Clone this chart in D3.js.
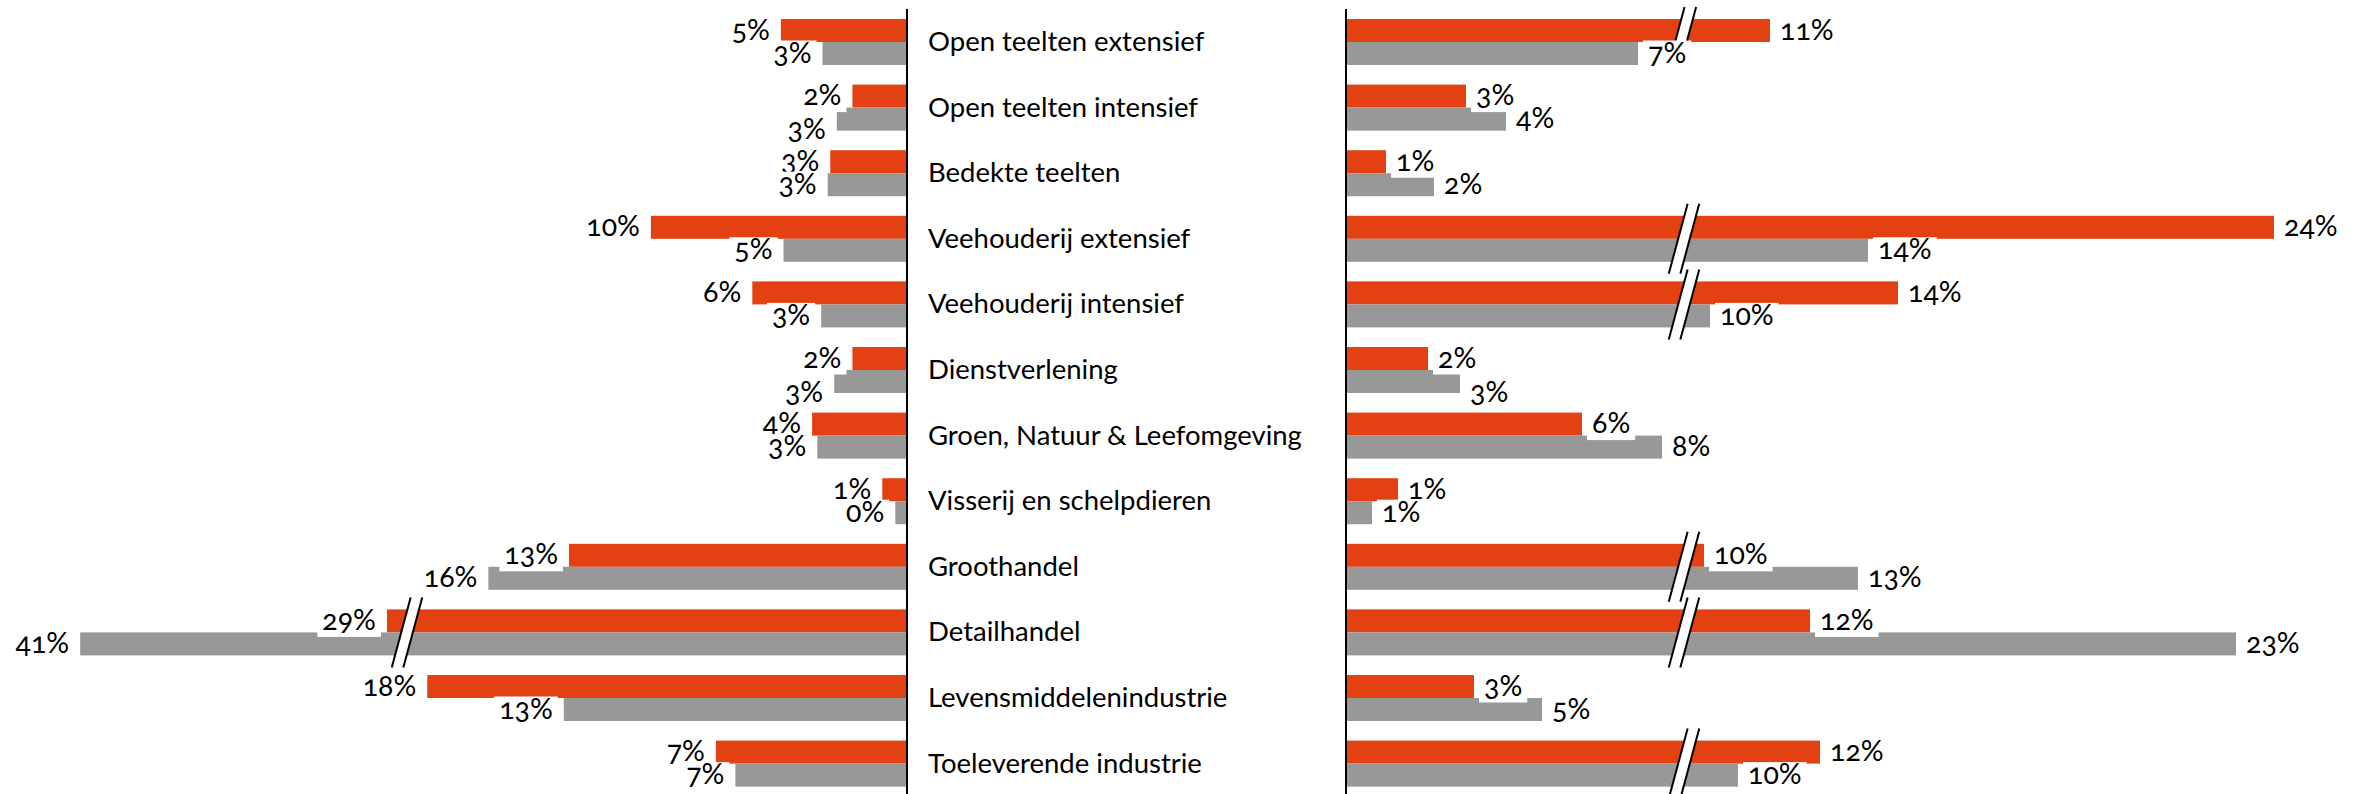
<!DOCTYPE html>
<html>
<head>
<meta charset="utf-8">
<script src="https://cdn.jsdelivr.net/npm/d3@7"></script>
<style>
    body { margin: 0; background: #ffffff; }
    svg { display: block; font-family: Lato, 'Open Sans', sans-serif; }
    .cat-label { font-size: 27.5px; fill: #000000; }
    .val-label { font-size: 28.5px; fill: #000000; font-variant-numeric: oldstyle-nums; }
    .axis-line { stroke: #000000; stroke-width: 2; }
    .break-line { stroke: #000000; stroke-width: 2; }
</style>
</head>
<body>
<svg id="chart"></svg>
<script>

// data

const categories = [
    'Open teelten extensief',
    'Open teelten intensief',
    'Bedekte teelten',
    'Veehouderij extensief',
    'Veehouderij intensief',
    'Dienstverlening',
    'Groen, Natuur & Leefomgeving',
    'Visserij en schelpdieren',
    'Groothandel',
    'Detailhandel',
    'Levensmiddelenindustrie',
    'Toeleverende industrie'
];

const seriesKeys = ['oranje', 'grijs'];

// left panel (%)
const leftOranje = [4.85, 2.1, 2.95, 9.85, 5.95, 2.1, 3.65, 0.95, 13.0, 29.1, 18.45, 7.35];
const leftGrijs = [3.25, 2.7, 3.05, 4.75, 3.3, 2.8, 3.45, 0.45, 16.1, 40.9, 13.2, 6.6];

// right panel (%)
const rightOranje = [11.2, 3.0, 1.0, 23.8, 14.4, 2.05, 5.9, 1.3, 9.55, 12.2, 3.2, 12.45];
const rightGrijs = [7.3, 4.0, 2.2, 13.65, 9.7, 2.85, 7.9, 0.65, 13.4, 22.85, 4.9, 10.4];

// axis breaks (values skipped by the // marks)
const leftBreak = [19.23, 28.33];
const rightBreak = [8.45, 9.05];

const COLORS = { oranje: '#e44113', grijs: '#989898' };

// sizes

let outerWidth = 2369;
let outerHeight = 794;
let leftAxisX = 907;
let rightAxisX = 1346;
let catLabelX = 928;
let leftPxPerPct = 26;
let rightPxPerPct = 40;
let leftBreakPx = 500;
let rightBreakPx = 338;
let rowStep = 65.6;
let groupHeight = 46;
let topY = 19;

// scales

let yScale = d3.scaleBand()
    .domain(categories)
    .range([topY, topY + categories.length * rowStep - (rowStep - groupHeight)])
    .paddingInner((rowStep - groupHeight) / rowStep)
    .paddingOuter(0);

let seriesScale = d3.scaleBand()
    .domain(seriesKeys)
    .range([0, yScale.bandwidth()]);

let xLeft = d3.scaleLinear()
    .domain([0, leftBreak[0], leftBreak[1], 45])
    .range([leftAxisX, leftAxisX - leftBreakPx, leftAxisX - leftBreakPx,
        leftAxisX - leftBreakPx - (45 - leftBreak[1]) * leftPxPerPct]);

let xRight = d3.scaleLinear()
    .domain([0, rightBreak[0], rightBreak[1], 30])
    .range([rightAxisX, rightAxisX + rightBreakPx, rightAxisX + rightBreakPx,
        rightAxisX + rightBreakPx + (30 - rightBreak[1]) * rightPxPerPct]);

const panels = [
    { x: xLeft, dir: -1, brk: leftBreak, series: { oranje: leftOranje, grijs: leftGrijs } },
    { x: xRight, dir: 1, brk: rightBreak, series: { oranje: rightOranje, grijs: rightGrijs } }
];

const svg = d3.select('#chart')
    .attr('width', outerWidth)
    .attr('height', outerHeight);

const barLayer = svg.append('g');
const breakLayer = svg.append('g');
const labelLayer = svg.append('g');

let fmt = v => `${Math.round(v)}%`;

panels.forEach(panel => {
    let rows = [];
    seriesKeys.forEach(key => {
        panel.series[key].forEach((v, i) => rows.push({ cat: categories[i], idx: i, key: key, value: v }));
    });

    let x0 = panel.x(0);

    // bars
    barLayer.selectAll(null)
        .data(rows)
        .enter()
        .append('rect')
        .attr('x', d => Math.min(x0, panel.x(d.value)))
        .attr('y', d => yScale(d.cat) + seriesScale(d.key))
        .attr('width', d => Math.abs(panel.x(d.value) - x0))
        .attr('height', seriesScale.bandwidth())
        .style('fill', d => COLORS[d.key]);

    // break marks
    categories.forEach((cat, i) => {
        let broken = seriesKeys.filter(k => panel.series[k][i] > panel.brk[0]);
        if (broken.length === 0) return;
        let top = yScale(cat) + seriesScale(broken[0]) - 12;
        let bottom = yScale(cat) + seriesScale(broken[broken.length - 1]) + seriesScale.bandwidth() + 12;
        let cx = panel.x(panel.brk[0]);
        let slant = (bottom - top) * 0.135;
        let gap = 5.8;
        let g = breakLayer.append('g');
        g.append('polygon')
            .attr('points', [
                [cx - gap + slant, top], [cx + gap + slant, top],
                [cx + gap - slant, bottom], [cx - gap - slant, bottom]
            ].map(p => p.join(',')).join(' '))
            .style('fill', '#ffffff');
        [-gap, gap].forEach(off => {
            g.append('line')
                .attr('class', 'break-line')
                .attr('x1', cx + off + slant)
                .attr('y1', top)
                .attr('x2', cx + off - slant)
                .attr('y2', bottom);
        });
    });

    // value labels with white boxes, orange first so grey boxes sit on top
    let placed = {};
    rows.forEach(d => {
        let end = panel.x(d.value);
        let len = Math.abs(end - x0);
        let cy = yScale(d.cat) + seriesScale(d.key) + seriesScale.bandwidth() / 2;
        let g = labelLayer.append('g');
        let box = g.append('rect').style('fill', '#ffffff');
        let text = g.append('text')
            .attr('class', 'val-label')
            .attr('x', panel.dir > 0 ? end + 10 : end - 11)
            .attr('y', cy + 9)
            .style('text-anchor', panel.dir > 0 ? 'start' : 'end')
            .text(fmt(d.value));
        let bb = text.node().getBBox();

        // grey label pushed down when it collides with a shorter orange bar's label
        let other = placed[d.idx];
        if (other && len > other.len + 5 && bb.x < other.bb.x + other.bb.width && bb.x + bb.width > other.bb.x) {
            text.attr('y', cy + 20);
            bb = text.node().getBBox();
        }
        let baseline = +text.attr('y');
        box.attr('x', bb.x - 5)
            .attr('y', baseline - 22)
            .attr('width', bb.width + 10)
            .attr('height', 29);
        if (d.key === 'oranje') placed[d.idx] = { bb: bb, len: len };
    });
});

// axes

[leftAxisX, rightAxisX].forEach(ax => {
    svg.append('line')
        .attr('class', 'axis-line')
        .attr('x1', ax)
        .attr('y1', 9)
        .attr('x2', ax)
        .attr('y2', outerHeight);
});

// category labels

svg.append('g')
    .selectAll('text')
    .data(categories)
    .enter()
    .append('text')
    .attr('class', 'cat-label')
    .attr('x', catLabelX)
    .attr('y', d => yScale(d) + yScale.bandwidth() / 2 + 9)
    .text(d => d);

</script>
</body>
</html>
